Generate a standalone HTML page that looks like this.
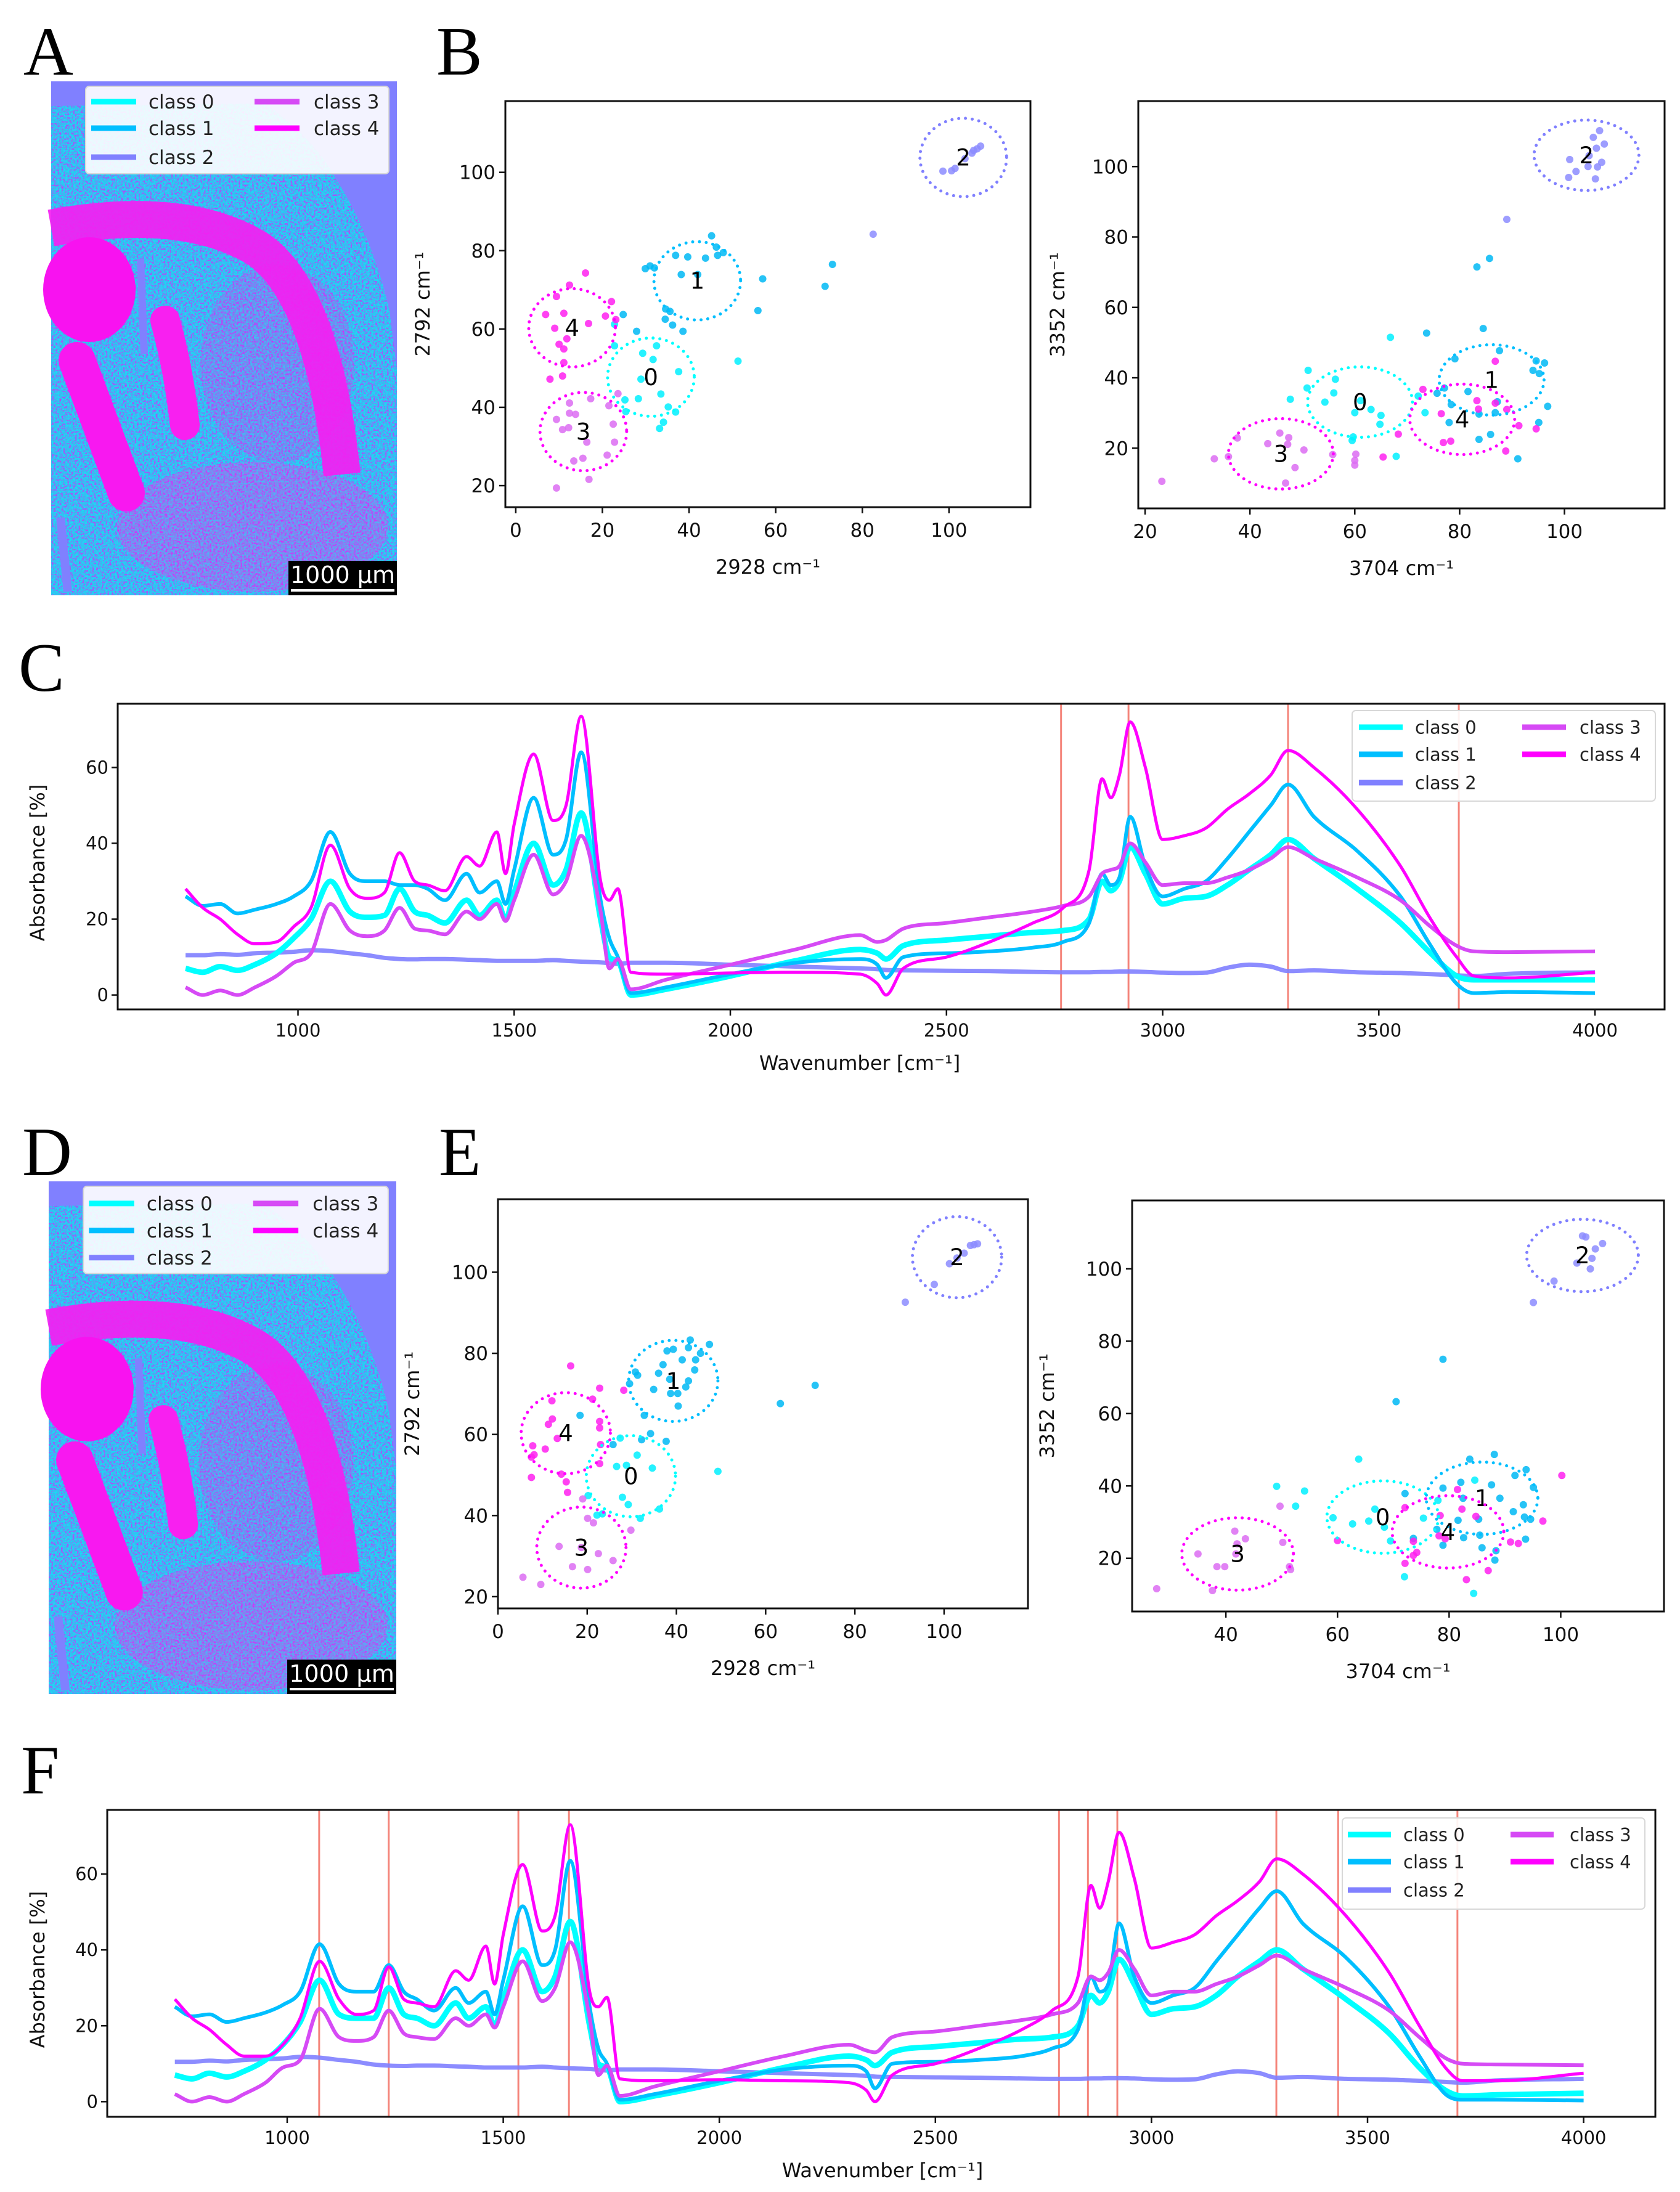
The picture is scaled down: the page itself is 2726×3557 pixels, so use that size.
<!DOCTYPE html>
<html><head><meta charset="utf-8"><title>Figure</title>
<style>
html,body{margin:0;padding:0;background:#fff;}
svg{display:block;}
text{font-family:"DejaVu Sans","Liberation Sans",sans-serif;}
.panel{font-family:"Liberation Serif",serif;font-size:112px;}
</style></head>
<body>
<svg id="fig" xmlns="http://www.w3.org/2000/svg" width="2726" height="3557" viewBox="0 0 2726 3557">
<defs>
<filter id="speckM" x="0" y="0" width="100%" height="100%">
<feTurbulence type="fractalNoise" baseFrequency="0.32" numOctaves="2" seed="4" result="n"/>
<feColorMatrix in="n" type="matrix" values="0 0 0 0 1  0 0 0 0 0  0 0 0 0 1  9 0 0 0 -4.6"/>
</filter>
<filter id="speckC" x="0" y="0" width="100%" height="100%">
<feTurbulence type="fractalNoise" baseFrequency="0.3" numOctaves="2" seed="9" result="n"/>
<feColorMatrix in="n" type="matrix" values="0 0 0 0 0  0 0 0 0 1  0 0 0 0 1  0 9 0 0 -4.6"/>
</filter>
<clipPath id="tissueClip"><path d="M83,172 L430,168 Q510,225 545,290 Q605,385 632,505 L644,600 L644,966 L83,966 Z"/></clipPath>
</defs>
<rect x="0" y="0" width="2726" height="3557" fill="#fff"/>
<text class="panel" x="38" y="121">A</text>
<text class="panel" x="708" y="121">B</text>
<text class="panel" x="30" y="1121">C</text>
<text class="panel" x="36" y="1907">D</text>
<text class="panel" x="712" y="1907">E</text>
<text class="panel" x="34" y="2910">F</text>
<g id="brainA"></g>
<g id="brainD" transform="translate(79,1917) scale(1.0053,0.9976) translate(-83,-132)"></g>
</svg>
<script>
// ---------- colours ----------
const classNames = ["class 0","class 1","class 2","class 3","class 4"];
const lineColors = ["#00ffff","#00bfff","#8080ff","#d64af5","#ff00ff"];
const dotColors = ["#00f0ff","#00b8f5","#8c8cff","#dc6cf2","#ff20f0"];

// ---------- spectra (wavenumber grid + absorbance per class) ----------
const wn = [740,780,820,860,900,950,990,1030,1075,1120,1160,1200,1235,1270,1300,1340,1390,1420,1460,1480,1500,1545,1590,1620,1655,1700,1720,1740,1770,1850,2000,2150,2300,2340,2360,2400,2500,2600,2700,2770,2830,2860,2880,2900,2925,2960,3000,3050,3100,3150,3200,3250,3290,3350,3450,3550,3620,3680,3720,3800,4000];
const cClass0 = [7,6,7.5,6.5,8,11,15,20,30,22,20.5,21,28,22,21,19,25,21,25,20,27,40,29,33,48,20,10,9,0,1.5,5,9,12,11,9.5,13,14.5,15.5,16.5,17,20,30,27.5,30,39,32,24,25.5,26,29,33,37,41,36,28,19,11,5,4,4,4];
const cClass1 = [26,23.5,24,21.5,22.5,24,26,30,43,32,30,30,29,29,28,25,32,27,30,24,33,52,37,41,64,25,15,10,0.5,2,5.5,8.5,9.5,8,4.5,10,11,11.5,12.5,14,19,32,29,31,47,34,26,28,30,36,43,50,55.5,47,38,26,13,3,0.5,0.8,0.5];
const cClass2 = [10.5,10.5,10.8,10.6,11,11.2,11.4,11.8,11.6,11,10.5,9.8,9.5,9.4,9.5,9.5,9.3,9.2,9,9,9,9,9.2,9,8.8,8.6,8.4,8.2,8.5,8.5,8,7.5,7,6.8,6.6,6.5,6.4,6.3,6.1,6,6,6.1,6.1,6.2,6.2,6.1,5.9,5.8,5.9,7.2,8,7.5,6.3,6.5,6,5.8,5.5,5.2,5,5.6,6];
const cClass3 = [2,0,1.2,0,2,5,8.5,11,24,17,15.5,17,23,17.5,17,16,22,20,24,19.5,25,37,26.5,30,42,22,7,9.5,1.5,4,8,12,15.8,14,14.5,17.5,19,20.5,22,23.5,26,32,33,34,40,35,29,29.5,29.5,31,33,36,39,36,31,25,18,13,11.5,11.3,11.5];
const cClass4 = [28,23,20,16,13.5,14,18,23,39.5,28,25.5,27,37.5,30,29,27.5,36.5,34,43,32,45,63.5,46,50,73.5,30,25,28,6,5.5,5.8,6,5.5,3,0,7,10,14,19,23,33,57,52,58,72,60,41,42,44,49,53,58,64.5,60,49,34,20,10,5,4.5,6];
const fClass0 = [7,6,7.5,6.5,8,11,15,21,32,23,22,22,30,23,22,20,26,22,25,20,27,40,29,33,47.5,20,10,9,0,1.5,5,9,12,11,9.5,13,14.5,15.5,16.5,17,20,28,26,29,37.5,31,23,24.5,25,28,33,37,40,35,27,18,9,3,1.5,1.8,2.2];
const fClass1 = [25,22.5,23,21,22,23.5,25.5,29,41.5,31,29,29,36,29,27,24,30,26,29,23,32,51.5,36,40,63.5,25,14,10,0.5,2,5.5,8.5,9.5,8,3.5,10,10.5,11,12,14,19,33,29,31,47,33,26,28,30,37,44,51,55.5,47,38,25,12,2,0.5,0.5,0.3];
const fClass2 = [10.5,10.5,10.8,10.6,11,11.2,11.4,11.8,11.6,11,10.5,9.8,9.5,9.4,9.5,9.5,9.3,9.2,9,9,9,9,9.2,9,8.8,8.6,8.4,8.2,8.5,8.5,8,7.5,7,6.8,6.6,6.5,6.4,6.3,6.1,6,6,6.1,6.1,6.2,6.2,6.1,5.9,5.8,5.9,7.2,8,7.5,6.3,6.5,6,5.8,5.5,5.2,5,5.6,6];
const fClass3 = [2,0,1.2,0,2,5,9,11,24.5,17,16,17,24,18,17,16.5,22,20,23,19.5,25,37,26.5,30,42,22,7,9.5,1.5,4,8,12,15,13.5,13,17,18.5,20,21.5,23,26,33,32,34,40,35,28,29,29,31,33,36,38.5,35,30,24,17,11.5,10,9.8,9.6];
const fClass4 = [27,22,19,15,12,12,15,22,37,27,23,24,35.5,27,26,25,34.5,32,41,31,44,62.5,45,49,73,29,25,27.5,6,5.5,5.8,5.5,5,3,0,7,10,14,19,24,33,57,51,58,71,59,40.5,42,44,49,53,58,64,60,49,34,20,9,5.5,5.5,7.5];
const cRedLines = [2765,2921,3290,3685];
const fRedLines = [1074,1235,1535,1652,2786,2853,2921,3289,3432,3708];
const specXTicks = [1000,1500,2000,2500,3000,3500,4000];
const specYTicks = [0,20,40,60];

// ---------- scatter data [x, y] per class ----------
const bL0 = [[22.8,61.2],[22.8,55.7],[32.5,55.7],[29.3,53.8],[31.7,52.2],[37.6,49.1],[51.3,51.8],[28.9,47.2],[33.5,43.4],[28.3,42.2],[25.2,41.9],[35.2,40.1],[36.9,38.8],[25.4,38.9],[34.1,36.2],[33.2,34.6]];
const bL1 = [[45.2,83.8],[46.3,80.9],[46.6,78.8],[47.9,79.5],[36.9,78.8],[39.7,78.4],[43.8,78.1],[29.9,75.4],[31,76.1],[32,75.6],[38.2,73.9],[42,73.9],[57,72.8],[73.1,76.5],[71.4,70.9],[34.6,65.1],[35.6,64.5],[24.8,63.7],[34.5,62.5],[36.2,61],[38.6,59.4],[55.9,64.7],[27.9,59.4]];
const bL2 = [[98.6,100.3],[100.6,100.4],[101.4,101],[103.7,103.5],[105.3,104.9],[106.5,106],[107.3,106.7],[105.7,105.6],[82.5,84.2]];
const bL3 = [[17.3,42.2],[12.4,41.1],[21.5,40.4],[12.4,38.5],[13.8,38.2],[9.4,36.9],[10.8,34.3],[12.2,34.8],[22.5,35.7],[16.4,31.1],[22.8,31.1],[21.1,27.8],[15.5,27],[13.4,26.3],[16.9,21.6],[9.4,19.4],[23.6,43.5]];
const bL4 = [[16.1,74.3],[12.4,71.2],[9.4,68.3],[22.1,67],[6.9,63.7],[11.1,64],[20.7,63.3],[16.8,61.4],[23.1,62.4],[9,60.2],[11.8,57.5],[10,56.1],[11.1,54.9],[11.1,51.4],[10.8,48],[7.9,47.2]];
const bLCenters = [[31.2,47.7],[41.9,72.3],[103.3,103.8],[15.6,33.8],[13,60.3]];

const bR0 = [[66.8,51.5],[51.1,42.1],[56.3,39.6],[50.9,37.1],[56,35.7],[47.7,33.9],[54.3,33.1],[61.1,33.5],[60,30.1],[63.1,31],[65,29.3],[64.8,26.8],[59.7,23.2],[59.5,22.2],[72.1,34.8],[73.4,30.1],[67.9,17.7]];
const bR1 = [[83.3,71.5],[85.7,73.9],[84.5,54],[73.7,52.7],[87.6,47.7],[79.1,45.4],[94.6,44.8],[96.2,44.2],[94,42.1],[95.2,41.2],[75.7,35.6],[77.1,37.1],[81.6,36.1],[87.2,33.2],[86.8,30.1],[78.4,32.4],[83.7,29.7],[96.8,31.9],[78,27.3],[95.1,27.3],[85.9,23.9],[83.7,22.5],[91.1,17]];
const bR2 = [[101,102],[102.2,98.6],[100.8,96.9],[104.5,100],[106.3,99.9],[107.1,101.2],[105.9,96.5],[105.5,108.3],[106.7,110.2],[107.6,106.4],[106.1,105.2],[104.7,103.1],[89,85]];
const bR3 = [[45.7,24.3],[47.4,23],[43.4,21.3],[47.2,21.1],[50.3,19.5],[37.6,22.9],[55.8,18.2],[60.2,18.3],[60,16.5],[60,15.2],[33.2,17],[35.9,17.6],[48.6,14.5],[46.8,10.1],[23.2,10.6]];
const bR4 = [[86.8,44.7],[73,36.7],[83.3,33.5],[86.8,32.8],[83.6,31.1],[89,31],[76.5,29.8],[91.3,26.4],[94.6,25.5],[68.3,24],[76.9,21.6],[78.3,22],[88.8,19.2],[65.4,17.5]];
const bRCenters = [[61,33.1],[86.1,39.4],[104.2,103.2],[45.9,18.4],[80.5,28.2]];

const eL0 = [[27.4,59.1],[31.2,54.9],[26.6,52.1],[34.6,51.7],[49.3,50.9],[28.8,52.4],[27.9,44.5],[29.2,42.7],[20.2,44.9],[36.2,41.6],[31.9,39.3],[22.2,40.1],[23.4,40.4]];
const eL1 = [[43.1,83.3],[47.4,82.2],[37.9,80.6],[39.3,81],[42.7,81.4],[41.3,78.4],[45.4,80],[44.3,78.4],[37,77.2],[44.1,75.9],[30.8,75.4],[31.3,74.6],[36,75.1],[38.5,73.6],[42.7,73.2],[29.5,72.5],[34.9,71.1],[42.1,71.7],[38.7,70.1],[40.3,70.1],[40.4,67],[32.8,64.7],[18.4,64.7],[63.3,67.6],[71.1,72.1],[34.2,60.2],[32.2,58.7],[25.8,57.5],[37.7,58.3]];
const eL2 = [[91.3,92.6],[97.8,97],[101.2,102.1],[102.9,103.5],[104.5,104.7],[105.9,106.6],[107.5,107],[106.7,106.8]];
const eL3 = [[19,44.1],[20.1,39.3],[21.4,38.2],[29.8,36.4],[13.7,32.4],[18.7,32.1],[22.5,30.6],[25.8,28.9],[16.7,27.4],[20.1,26.7],[5.6,24.8],[9.6,23]];
const eL4 = [[16.3,76.9],[22.8,71.4],[28.2,70.9],[12.1,68.3],[21.2,68.7],[12.2,63.8],[11.3,62.5],[22.8,63.2],[22.8,61.6],[13.3,59],[23,57.5],[7.8,57.2],[10.6,56.4],[8.1,55],[7.5,54.4],[22.8,52.8],[14.2,50.2],[7.5,49.4],[15.3,48.3],[15.6,45.7]];
const eLCenters = [[29.8,49.7],[39.3,73.2],[102.9,103.7],[18.7,32.1],[15.2,60.3]];

const eR0 = [[63.8,47.4],[49.1,39.9],[54.1,38.6],[84.6,41.6],[52.5,34.4],[59.2,31.2],[62.7,29.5],[65.6,30.3],[66.7,33.6],[68.4,28.6],[75.4,31.1],[78,36],[69.5,24.8],[72,14.9],[84.4,10.3]];
const eR1 = [[78.9,75],[70.5,63.3],[83.7,47.4],[88.1,48.7],[82.1,41],[93.8,44.5],[91.8,42.9],[95.1,39.6],[78.9,39.4],[87.6,40.3],[89.1,36.6],[72.1,37.9],[82.5,36.6],[93.3,34.8],[91.5,32.9],[81.6,30.5],[85.3,30.8],[94.6,30.8],[93.5,31.4],[77.8,28],[85.5,26.4],[82.6,25.7],[93.7,25.3],[78.9,23.6],[85.9,22.9],[88.4,22.1],[88.2,19.5],[73.6,25.5]];
const eR2 = [[95.1,90.7],[98.8,96.6],[102.9,101.6],[103.9,109.1],[104.5,108.8],[105.6,102.9],[105.3,100],[106.2,105.5],[107.5,107]];
const eR3 = [[41.6,27.5],[43.5,25.4],[50.2,24.4],[35,21.2],[41.8,21.2],[38.4,17.7],[39.8,17.7],[51.4,17.7],[51.6,16.9],[49.7,34.4],[27.6,11.6],[37.6,11.1],[42,24]];
const eR4 = [[100.2,42.9],[81.5,39],[82.3,33.6],[84.8,31.6],[72.1,34],[96.8,30.3],[78.4,31.8],[78.2,26.2],[79.3,25.4],[73.6,24.7],[91,24.5],[92.4,24.1],[74.2,21.6],[73.6,20.8],[72.1,18.6],[87,16.6],[83.1,14.1],[60,24.9]];
const eRCenters = [[68.1,31.4],[85.9,36.6],[103.9,103.7],[42.1,21.2],[79.8,27.3]];

const scatterTicks = [0,20,40,60,80,100];

// ---------- helpers ----------
const NS = "http://www.w3.org/2000/svg";
const svg = document.getElementById("fig");
function mk(tag, attrs, parent) {
  const e = document.createElementNS(NS, tag);
  for (const k in attrs) e.setAttribute(k, attrs[k]);
  (parent || svg).appendChild(e);
  return e;
}
function lin(d0, d1, p0, p1) { return v => p0 + (v - d0) * (p1 - p0) / (d1 - d0); }

function monoPath(pts) {
  const n = pts.length; const d = []; const m = new Array(n);
  for (let i = 0; i < n - 1; i++) d.push((pts[i+1][1]-pts[i][1])/(pts[i+1][0]-pts[i][0]));
  m[0] = d[0]; m[n-1] = d[n-2];
  for (let i = 1; i < n - 1; i++) m[i] = (d[i-1]*d[i] <= 0) ? 0 : (d[i-1]+d[i])/2;
  for (let i = 0; i < n - 1; i++) {
    if (d[i] === 0) { m[i] = 0; m[i+1] = 0; continue; }
    const a = m[i]/d[i], b = m[i+1]/d[i], s = a*a + b*b;
    if (s > 9) { const t = 3/Math.sqrt(s); m[i] = t*a*d[i]; m[i+1] = t*b*d[i]; }
  }
  let p = "M" + pts[0][0].toFixed(1) + "," + pts[0][1].toFixed(1);
  for (let i = 0; i < n - 1; i++) {
    const h = pts[i+1][0]-pts[i][0];
    p += " C" + (pts[i][0]+h/3).toFixed(1) + "," + (pts[i][1]+m[i]*h/3).toFixed(1) + " " +
         (pts[i+1][0]-h/3).toFixed(1) + "," + (pts[i+1][1]-m[i+1]*h/3).toFixed(1) + " " +
         pts[i+1][0].toFixed(1) + "," + pts[i+1][1].toFixed(1);
  }
  return p;
}

function legend(parent, x, y, w, h, rows, lineX, textX, col2LineX, col2TextX, fs, name) {
  const g = mk("g", {}, parent);
  
  
  const box = mk("rect", {x:x, y:y, width:w, height:h, rx:6, fill:"#fff", "fill-opacity":0.9, stroke:"#d8d8d8", "stroke-width":2}, g);
  
  
  const pos = [[lineX,textX,rows[0]],[lineX,textX,rows[1]],[lineX,textX,rows[2]],[col2LineX,col2TextX,rows[0]],[col2LineX,col2TextX,rows[1]]];
  for (let i = 0; i < 5; i++) {
    const ln = mk("line", {x1:pos[i][0], x2:pos[i][0]+(textX-lineX-20), y1:pos[i][2], y2:pos[i][2], stroke:lineColors[i], "stroke-width":9}, g);
    
    
    const t = mk("text", {x:pos[i][1], y:pos[i][2]+fs*0.36, "font-size":fs, fill:"#222"}, g);
    t.textContent = classNames[i];
    
    
  }
  return g;
}

function frame(px0, px1, py0, py1, name) {
  const r = mk("rect", {x:px0, y:py0, width:px1-px0, height:py1-py0, fill:"none", stroke:"#111", "stroke-width":3});
  
  
}

// ---------- scatter plots ----------
function scatterPlot(cfg) {
  const X = lin(cfg.xlim[0], cfg.xlim[1], cfg.px[0], cfg.px[1]);
  const Y = lin(cfg.ylim[0], cfg.ylim[1], cfg.py[1], cfg.py[0]);
  const g = mk("g", {});
  
  
  cfg.xticks.forEach(v => {
    const t = mk("line", {x1:X(v), x2:X(v), y1:cfg.py[1], y2:cfg.py[1]+10, stroke:"#111", "stroke-width":2.5}, g);
    
    
    const l = mk("text", {x:X(v), y:cfg.py[1]+48, "font-size":31, "text-anchor":"middle", fill:"#111"}, g);
    l.textContent = v;
    
    
  });
  cfg.yticks.forEach(v => {
    const t = mk("line", {x1:cfg.px[0]-10, x2:cfg.px[0], y1:Y(v), y2:Y(v), stroke:"#111", "stroke-width":2.5}, g);
    
    
    const l = mk("text", {x:cfg.px[0]-16, y:Y(v)+11, "font-size":31, "text-anchor":"end", fill:"#111"}, g);
    l.textContent = v;
    
    
  });
  const xl = mk("text", {x:(cfg.px[0]+cfg.px[1])/2, y:cfg.py[1]+108, "font-size":32, "text-anchor":"middle", fill:"#111"}, g);
  xl.textContent = cfg.xlabel;
  
  
  const yc = (cfg.py[0]+cfg.py[1])/2;
  const yl = mk("text", {x:cfg.ylabelX, y:yc, "font-size":32, "text-anchor":"middle", fill:"#111", transform:"rotate(-90 " + cfg.ylabelX + " " + yc + ")"}, g);
  yl.textContent = cfg.ylabel;
  
  
  cfg.series.forEach((pts, ci) => {
    pts.forEach(p => {
      const c = mk("circle", {cx:X(p[0]), cy:Y(p[1]), r:6, fill:dotColors[ci], "fill-opacity":0.85}, g);
      
      
    });
  });
  cfg.centers.forEach((c, ci) => {
    const cx = X(c[0]), cy = Y(c[1]);
    const rx = Math.abs(X(c[0]+10)-cx), ry = Math.abs(Y(c[1]+10)-cy);
    const e = mk("ellipse", {cx:cx, cy:cy, rx:rx, ry:ry, fill:"none", stroke:lineColors[ci === 3 ? 4 : ci], "stroke-width":5, "stroke-dasharray":"0 11", "stroke-linecap":"round"}, g);
    
    
    const t = mk("text", {x:cx, y:cy+13, "font-size":37, "text-anchor":"middle", fill:"#000"}, g);
    t.textContent = String(ci);
    
    
  });
  frame(cfg.px[0], cfg.px[1], cfg.py[0], cfg.py[1], cfg.name + '-frame');
}

scatterPlot({name:"scatter-b-2928-vs-2792", px:[820,1672], py:[164,823], xlim:[-2.4,118.8], ylim:[14.5,118.2], xticks:scatterTicks, yticks:[20,40,60,80,100], xlabel:"2928 cm\u207B\u00B9", ylabel:"2792 cm\u207B\u00B9", ylabelX:697, series:[bL0,bL1,bL2,bL3,bL4], centers:bLCenters});
scatterPlot({name:"scatter-b-3704-vs-3352", px:[1847,2701], py:[164,825], xlim:[18.7,119.1], ylim:[2.9,118.6], xticks:[20,40,60,80,100], yticks:[20,40,60,80,100], xlabel:"3704 cm\u207B\u00B9", ylabel:"3352 cm\u207B\u00B9", ylabelX:1727, series:[bR0,bR1,bR2,bR3,bR4], centers:bRCenters});
scatterPlot({name:"scatter-e-2928-vs-2792", px:[808,1668], py:[1946,2610], xlim:[0,118.8], ylim:[17.1,118], xticks:scatterTicks, yticks:[20,40,60,80,100], xlabel:"2928 cm\u207B\u00B9", ylabel:"2792 cm\u207B\u00B9", ylabelX:680, series:[eL0,eL1,eL2,eL3,eL4], centers:eLCenters});
scatterPlot({name:"scatter-e-3704-vs-3352", px:[1837,2700], py:[1948,2615], xlim:[23.2,118.5], ylim:[5.3,118.9], xticks:[40,60,80,100], yticks:[20,40,60,80,100], xlabel:"3704 cm\u207B\u00B9", ylabel:"3352 cm\u207B\u00B9", ylabelX:1710, series:[eR0,eR1,eR2,eR3,eR4], centers:eRCenters});

// ---------- spectra ----------
function spectrum(cfg) {
  const X = lin(cfg.xlim[0], cfg.xlim[1], cfg.px[0], cfg.px[1]);
  const Y = lin(cfg.ylim[0], cfg.ylim[1], cfg.py[1], cfg.py[0]);
  const g = mk("g", {});
  
  
  cfg.red.forEach(v => {
    const l = mk("line", {x1:X(v), x2:X(v), y1:cfg.py[0], y2:cfg.py[1], stroke:"#f4847a", "stroke-width":3}, g);
    
    
  });
  const order = [2,0,1,3,4];
  const widths = [9,6,7,6,5];
  order.forEach(ci => {
    const pts = wn.map((w, i) => [X(w), Y(cfg.series[ci][i])]);
    const p = mk("path", {d:monoPath(pts), fill:"none", stroke:lineColors[ci], "stroke-width":widths[ci], "stroke-linejoin":"round", "stroke-opacity":ci===2?0.9:1}, g);
    
    
  });
  specXTicks.forEach(v => {
    const t = mk("line", {x1:X(v), x2:X(v), y1:cfg.py[1], y2:cfg.py[1]+10, stroke:"#111", "stroke-width":2.5}, g);
    
    
    const l = mk("text", {x:X(v), y:cfg.py[1]+44, "font-size":29, "text-anchor":"middle", fill:"#111"}, g);
    l.textContent = v;
    
    
  });
  specYTicks.forEach(v => {
    const t = mk("line", {x1:cfg.px[0]-10, x2:cfg.px[0], y1:Y(v), y2:Y(v), stroke:"#111", "stroke-width":2.5}, g);
    
    
    const l = mk("text", {x:cfg.px[0]-15, y:Y(v)+10, "font-size":29, "text-anchor":"end", fill:"#111"}, g);
    l.textContent = v;
    
    
  });
  const xl = mk("text", {x:cfg.xlabelX, y:cfg.py[1]+98, "font-size":32, "text-anchor":"middle", fill:"#111"}, g);
  xl.textContent = "Wavenumber [cm\u207B\u00B9]";
  
  
  const yc = (cfg.py[0]+cfg.py[1])/2 + 10;
  const yl = mk("text", {x:72, y:yc, "font-size":32, "text-anchor":"middle", fill:"#111", transform:"rotate(-90 72 " + yc + ")"}, g);
  yl.textContent = "Absorbance [%]";
  
  
  frame(cfg.px[0], cfg.px[1], cfg.py[0], cfg.py[1], cfg.name + '-frame');
  const L = cfg.leg;
  legend(svg, L[0], L[1], L[2], L[3], L[4], L[5], L[6], L[7], L[8], 29, cfg.name + '-legend');
}
spectrum({name:"spectra-c", px:[191,2701], py:[1142,1638], xlim:[583,4161], ylim:[-3.8,76.8], red:cRedLines, series:[cClass0,cClass1,cClass2,cClass3,cClass4], xlabelX:1395, leg:[2194,1153,492,147,[1180,1224,1270],2205,2296,2470,2563]});
spectrum({name:"spectra-f", px:[174,2686], py:[2937,3435], xlim:[583.6,4166], ylim:[-4,76.9], red:fRedLines, series:[fClass0,fClass1,fClass2,fClass3,fClass4], xlabelX:1432, leg:[2178,2950,491,148,[2977,3021,3067],2187,2277,2451,2547]});

// ---------- class-map images ----------
function brain(g, legRows) {
  const parts = [
    ["rect", {x:83, y:132, width:561, height:834, fill:"#8080ff"}, 'background'],
    ["path", {d:"M83,172 L430,168 Q510,225 545,290 Q605,385 632,505 L644,600 L644,966 L83,966 Z", fill:"#2ec4f0"}, 'tissue'],
    ["ellipse", {cx:450, cy:590, rx:125, ry:160, fill:"#d040f0", "fill-opacity":0.35}, 'mixed-region'],
    ["ellipse", {cx:410, cy:855, rx:220, ry:105, fill:"#e040f0", "fill-opacity":0.45}, 'lower-region'],
    ["rect", {x:83, y:132, width:561, height:834, fill:"#fff", filter:"url(#speckM)", "clip-path":"url(#tissueClip)", opacity:0.55}, 'magenta-speckle'],
    ["rect", {x:83, y:132, width:561, height:834, fill:"#fff", filter:"url(#speckC)", "clip-path":"url(#tissueClip)", opacity:0.35}, 'cyan-speckle'],
    ["path", {d:"M83,370 Q300,330 420,405 Q525,480 555,770", fill:"none", stroke:"#f41ef2", "stroke-width":60, "stroke-opacity":0.92}, 'white-matter-band'],
    ["ellipse", {cx:145, cy:470, rx:75, ry:85, fill:"#f812f0"}, 'left-blob'],
    ["path", {d:"M125,585 L205,800", fill:"none", stroke:"#f818f0", "stroke-width":60, "stroke-linecap":"round"}, 'descending-limb'],
    ["path", {d:"M268,520 Q290,600 300,690", fill:"none", stroke:"#f820f0", "stroke-width":48, "stroke-linecap":"round"}, 'middle-band'],
    ["path", {d:"M228,420 L234,575", fill:"none", stroke:"#8080ff", "stroke-width":12}, 'ventricle-gap'],
    ["path", {d:"M98,840 L110,960", fill:"none", stroke:"#8080ff", "stroke-width":14}, 'lower-gap']
  ];
  parts.forEach(pp => {
    const e = mk(pp[0], pp[1], g);
    
    
  });
  legend(g, 139, 140, 492, 142, legRows, 148, 241, 413, 509, 31, 'image-legend');
  const sb = mk("rect", {x:468, y:910, width:176, height:56, fill:"#000"}, g);
  
  
  const st = mk("text", {x:556, y:946, "font-size":38, "text-anchor":"middle", fill:"#fff"}, g);
  st.textContent = "1000 \u00B5m";
  
  
  const sl = mk("line", {x1:472, x2:640, y1:958, y2:958, stroke:"#fff", "stroke-width":4}, g);
  
  
}
brain(document.getElementById("brainA"), [165,208,255]);
brain(document.getElementById("brainD"), [168,212,256]);
</script>
</body></html>
